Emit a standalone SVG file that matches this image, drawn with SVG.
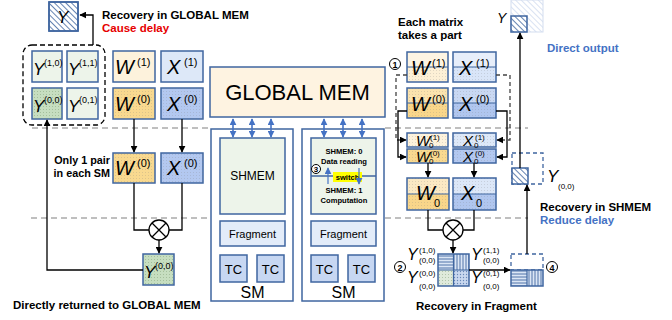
<svg xmlns="http://www.w3.org/2000/svg" width="672" height="320" viewBox="0 0 672 320">
<defs>
<style>
text{font-family:"Liberation Sans",Arial,sans-serif;fill:#000}
.b{font-weight:bold;font-size:11.5px}
.mi{font-style:italic;font-size:20px}
.sup{font-size:11px}
.ys{font-size:9px}
.box{stroke:#3f66a0;stroke-width:1.5}
.conn{fill:none;stroke:#000;stroke-width:1.3}
.dash{fill:none;stroke:#444;stroke-width:1.3;stroke-dasharray:4,3}
.gray{stroke:#aaa;stroke-width:1.5;stroke-dasharray:6,4;fill:none}
.blu{stroke:#4472c4;stroke-width:1.6;fill:none}
.num{font-weight:bold;font-size:9px}
.sm{font-weight:bold;font-size:7.6px}
</style>
<pattern id="dots" width="3" height="3" patternUnits="userSpaceOnUse"><circle cx="1.5" cy="1.5" r="0.45" fill="#777" opacity="0.45"/></pattern>
<pattern id="diag" width="4" height="4" patternUnits="userSpaceOnUse" patternTransform="rotate(-45)"><line x1="0" y1="0" x2="0" y2="4" stroke="#3f66a0" stroke-width="1.6"/></pattern>
<pattern id="diagL" width="4" height="4" patternUnits="userSpaceOnUse" patternTransform="rotate(-45)"><line x1="0" y1="0" x2="0" y2="4" stroke="#c9d6ec" stroke-width="1.4"/></pattern>
<pattern id="hs" width="3" height="3" patternUnits="userSpaceOnUse"><line x1="0" y1="1" x2="3" y2="1" stroke="#3f66a0" stroke-width="0.9"/></pattern>
<pattern id="vs" width="3" height="3" patternUnits="userSpaceOnUse"><line x1="1" y1="0" x2="1" y2="3" stroke="#3f66a0" stroke-width="0.9"/></pattern>
<pattern id="cross" width="3" height="3" patternUnits="userSpaceOnUse"><circle cx="1.5" cy="1.5" r="0.7" fill="#3f66a0" opacity="0.7"/></pattern>
<pattern id="gdots" width="3" height="3" patternUnits="userSpaceOnUse"><circle cx="1.5" cy="1.5" r="0.5" fill="#7a9a70" opacity="0.6"/></pattern>
<marker id="ah" viewBox="0 0 10 10" refX="9" refY="5" markerWidth="7" markerHeight="7" orient="auto-start-reverse" markerUnits="userSpaceOnUse"><path d="M0,0 L10,5 L0,10 z" fill="#000"/></marker>
<marker id="ab" viewBox="0 0 10 10" refX="9" refY="5" markerWidth="7" markerHeight="7" orient="auto-start-reverse" markerUnits="userSpaceOnUse"><path d="M0,0 L10,5 L0,10 z" fill="#4472c4"/></marker>
</defs>
<rect width="672" height="320" fill="#fff"/>

<g id="separators">
<line class="gray" x1="32" y1="128" x2="210" y2="128"/>
<line class="gray" x1="385" y1="128" x2="528" y2="128"/>
<line class="gray" x1="31" y1="218" x2="210" y2="218"/>
<line class="gray" x1="385" y1="218" x2="528" y2="218"/>
</g>

<!-- LEFT -->
<g id="left-Y-top">
<rect class="box" x="49" y="2" width="29" height="29" fill="#fff"/>
<rect x="49" y="2" width="29" height="29" fill="url(#diag)"/>
<rect class="box" x="49" y="2" width="29" height="29" fill="none"/>
<text x="57" y="23" style="font-style:italic;font-size:17px">Y</text>
</g>
<g id="left-text-top">
<text class="b" x="102" y="19">Recovery in GLOBAL MEM</text>
<text class="b" x="102" y="32" style="fill:#e60000">Cause delay</text>
</g>
<g id="left-Y-grid">
<rect x="23" y="45" width="82" height="80" rx="9" fill="none" stroke="#000" stroke-width="1.3" stroke-dasharray="5,3"/>
<rect class="box" x="32" y="51" width="30" height="31" fill="#edf4ea"/>
<rect class="box" x="67" y="51" width="31" height="31" fill="#edf4ea"/>
<rect class="box" x="32" y="88" width="30" height="31" fill="#c6dec0"/>
<rect x="32" y="88" width="30" height="31" fill="url(#gdots)"/>
<rect class="box" x="67" y="88" width="31" height="31" fill="#edf4ea"/>
<text x="33" y="75" style="font-style:italic;font-size:17px">Y</text><text class="ys" x="44" y="66">(1,0)</text>
<text x="68" y="75" style="font-style:italic;font-size:17px">Y</text><text class="ys" x="79" y="66">(1,1)</text>
<text x="33" y="112" style="font-style:italic;font-size:17px">Y</text><text class="ys" x="44" y="103">(0,0)</text>
<text x="68" y="112" style="font-style:italic;font-size:17px">Y</text><text class="ys" x="79" y="103">(0,1)</text>
</g>
<g id="left-W1">
<rect class="box" x="113" y="51" width="42" height="31" fill="#fdf2dc"/>
<text class="mi" x="115" y="74">W</text><text class="sup" x="137" y="66">(1)</text>
</g>
<g id="left-X1">
<rect class="box" x="161" y="51" width="42" height="31" fill="#dde8f8"/>
<text class="mi" x="167" y="74">X</text><text class="sup" x="184" y="66">(1)</text>
</g>
<g id="left-W0">
<rect class="box" x="113" y="88" width="42" height="31" fill="#f9d98f"/>
<rect x="113" y="88" width="42" height="31" fill="url(#dots)"/>
<text class="mi" x="115" y="111">W</text><text class="sup" x="137" y="103">(0)</text>
</g>
<g id="left-X0">
<rect class="box" x="161" y="88" width="42" height="31" fill="#b3c8f0"/>
<rect x="161" y="88" width="42" height="31" fill="url(#dots)"/>
<text class="mi" x="167" y="111">X</text><text class="sup" x="184" y="103">(0)</text>
</g>
<g id="left-text-mid">
<text class="b" x="110" y="164" text-anchor="end" style="font-size:10.8px">Only 1 pair</text>
<text class="b" x="110" y="177" text-anchor="end" style="font-size:10.8px">in each SM</text>
</g>
<g id="left-W0-sm">
<rect class="box" x="113" y="153" width="42" height="30" fill="#f9d98f"/>
<rect x="113" y="153" width="42" height="30" fill="url(#dots)"/>
<text class="mi" x="115" y="175">W</text><text class="sup" x="137" y="167">(0)</text>
</g>
<g id="left-X0-sm">
<rect class="box" x="161" y="153" width="42" height="30" fill="#b3c8f0"/>
<rect x="161" y="153" width="42" height="30" fill="url(#dots)"/>
<text class="mi" x="167" y="175">X</text><text class="sup" x="184" y="167">(0)</text>
</g>
<g id="left-mul">
<circle cx="159" cy="230" r="10" fill="#fff" stroke="#000" stroke-width="1.3"/>
<path d="M152,223 L166,237 M166,223 L152,237" stroke="#000" stroke-width="1.3"/>
</g>
<g id="left-Y00">
<rect class="box" x="143" y="254" width="31" height="31" fill="#c6dec0"/>
<rect x="143" y="254" width="31" height="31" fill="url(#gdots)"/>
<text x="144" y="278" style="font-style:italic;font-size:17px">Y</text><text class="ys" x="155" y="269">(0,0)</text>
</g>
<text class="b" x="13" y="309">Directly returned to GLOBAL MEM</text>

<!-- MIDDLE -->
<g id="global-mem">
<rect class="box" x="210" y="67" width="175" height="50" fill="#fef3e1"/>
<text x="297.5" y="100" text-anchor="middle" style="font-size:22px">GLOBAL MEM</text>
</g>
<g id="sm1">
<rect class="box" x="211" y="129" width="82" height="172" fill="#fff"/>
<rect class="box" x="220" y="138" width="65" height="76" fill="#edf4ea"/>
<text x="252.5" y="180" text-anchor="middle" style="font-size:12px">SHMEM</text>
<rect class="box" x="220" y="221" width="65" height="25" fill="#e3ecf9"/>
<text x="252.5" y="238" text-anchor="middle" style="font-size:11px">Fragment</text>
<rect class="box" x="220" y="255" width="27" height="27" fill="#c7d7f2"/>
<rect class="box" x="257" y="255" width="27" height="27" fill="#c7d7f2"/>
<text x="233.5" y="274" text-anchor="middle" style="font-size:13px">TC</text>
<text x="270.5" y="274" text-anchor="middle" style="font-size:13px">TC</text>
<text x="252.5" y="298" text-anchor="middle" style="font-size:16px">SM</text>
</g>
<g id="sm2">
<rect class="box" x="302" y="129" width="82" height="172" fill="#fff"/>
<rect class="box" x="311" y="138" width="65" height="76" fill="#edf4ea"/>
<line x1="311" y1="176" x2="376" y2="176" stroke="#3f66a0" stroke-width="1.5"/>
<text class="sm" x="344" y="154" text-anchor="middle">SHMEM: 0</text>
<text class="sm" x="344" y="164" text-anchor="middle">Data reading</text>
<rect x="333" y="172" width="29" height="10" fill="#ffff00"/>
<text class="sm" x="347.5" y="180" text-anchor="middle">switch</text>
<text class="sm" x="344" y="193" text-anchor="middle">SHMEM: 1</text>
<text class="sm" x="344" y="203" text-anchor="middle">Computation</text>
<circle cx="316" cy="169" r="4.5" fill="#fff" stroke="#000" stroke-width="1"/>
<text class="num" x="316" y="172" text-anchor="middle" style="font-size:8px">3</text>
<line class="blu" x1="328" y1="184" x2="328" y2="168" marker-end="url(#ab)" style="stroke-width:1.2"/>
<line class="blu" x1="359" y1="168" x2="359" y2="184" marker-end="url(#ab)" style="stroke-width:1.2"/>
<rect class="box" x="311" y="221" width="65" height="25" fill="#e3ecf9"/>
<text x="343.5" y="238" text-anchor="middle" style="font-size:11px">Fragment</text>
<rect class="box" x="311" y="255" width="27" height="27" fill="#c7d7f2"/>
<rect class="box" x="348" y="255" width="27" height="27" fill="#c7d7f2"/>
<text x="324.5" y="274" text-anchor="middle" style="font-size:13px">TC</text>
<text x="361.5" y="274" text-anchor="middle" style="font-size:13px">TC</text>
<text x="343.5" y="298" text-anchor="middle" style="font-size:16px">SM</text>
</g>

<!-- RIGHT -->
<g id="right-Y-top">
<rect x="511" y="0" width="32" height="32" fill="#fff"/>
<rect x="511" y="0" width="32" height="32" fill="url(#diagL)" stroke="#d3ddef" stroke-width="1"/>
<rect x="511" y="16" width="16" height="16" fill="#fff"/>
<rect x="511" y="16" width="16" height="16" fill="url(#diag)"/>
<rect class="box" x="511" y="16" width="16" height="16" fill="none"/>
<text x="497" y="23" style="font-style:italic;font-size:14px">Y</text>
</g>
<text class="b" x="547" y="52" style="fill:#4472c4">Direct output</text>
<g id="right-text-top">
<text class="b" x="398" y="26">Each matrix</text>
<text class="b" x="398" y="39">takes a part</text>
</g>
<g id="num1"><circle cx="395" cy="64" r="5.5" fill="#fff" stroke="#000" stroke-width="1"/><text class="num" x="395" y="67.5" text-anchor="middle">1</text></g>
<g id="right-W1">
<rect x="407" y="52" width="41" height="15" fill="#fdf4e3"/>
<rect x="407" y="67" width="41" height="15" fill="#fdf0d6"/>
<rect x="407" y="67" width="41" height="15" fill="url(#dots)"/>
<rect class="box" x="407" y="52" width="41" height="30" fill="none"/>
<line x1="407" y1="67" x2="448" y2="67" stroke="#3f66a0" stroke-width="1.2"/>
<text class="mi" x="411" y="75">W</text><text class="sup" x="432" y="67">(1)</text>
</g>
<g id="right-X1">
<rect x="453" y="52" width="43" height="15" fill="#e7eefa"/>
<rect x="453" y="67" width="43" height="15" fill="#d9e5f8"/>
<rect x="453" y="67" width="43" height="15" fill="url(#dots)"/>
<rect class="box" x="453" y="52" width="43" height="30" fill="none"/>
<line x1="453" y1="67" x2="496" y2="67" stroke="#3f66a0" stroke-width="1.2"/>
<text class="mi" x="459" y="75">X</text><text class="sup" x="476" y="67">(1)</text>
</g>
<g id="right-W0">
<rect x="407" y="88" width="41" height="15" fill="#fbe3ae"/>
<rect x="407" y="103" width="41" height="15" fill="#f9d68a"/>
<rect x="407" y="88" width="41" height="30" fill="url(#dots)"/>
<rect class="box" x="407" y="88" width="41" height="30" fill="none"/>
<line x1="407" y1="103" x2="448" y2="103" stroke="#3f66a0" stroke-width="1.2"/>
<text class="mi" x="411" y="111">W</text><text class="sup" x="432" y="103">(0)</text>
</g>
<g id="right-X0">
<rect x="453" y="88" width="43" height="15" fill="#c9d8f3"/>
<rect x="453" y="103" width="43" height="15" fill="#b0c6ef"/>
<rect x="453" y="88" width="43" height="30" fill="url(#dots)"/>
<rect class="box" x="453" y="88" width="43" height="30" fill="none"/>
<line x1="453" y1="103" x2="496" y2="103" stroke="#3f66a0" stroke-width="1.2"/>
<text class="mi" x="459" y="111">X</text><text class="sup" x="476" y="103">(0)</text>
</g>
<g id="right-W01">
<rect class="box" x="407" y="133" width="41" height="14" fill="#fdf2dc"/>
<rect x="407" y="133" width="41" height="14" fill="url(#dots)"/>
<text x="416" y="146" style="font-style:italic;font-size:15px">W</text><text x="429" y="148" style="font-size:8px">0</text><text x="430" y="140" style="font-size:8px">(1)</text>
</g>
<g id="right-X01">
<rect class="box" x="453" y="133" width="43" height="14" fill="#dde8f8"/>
<rect x="453" y="133" width="43" height="14" fill="url(#dots)"/>
<text x="463" y="146" style="font-style:italic;font-size:15px">X</text><text x="474" y="148" style="font-size:8px">0</text><text x="475" y="140" style="font-size:8px">(1)</text>
</g>
<g id="right-W00">
<rect class="box" x="407" y="149" width="41" height="14" fill="#f9d98f"/>
<rect x="407" y="149" width="41" height="14" fill="url(#dots)"/>
<text x="416" y="162" style="font-style:italic;font-size:15px">W</text><text x="429" y="164" style="font-size:8px">0</text><text x="430" y="156" style="font-size:8px">(0)</text>
</g>
<g id="right-X00">
<rect class="box" x="453" y="149" width="43" height="14" fill="#b3c8f0"/>
<rect x="453" y="149" width="43" height="14" fill="url(#dots)"/>
<text x="463" y="162" style="font-style:italic;font-size:15px">X</text><text x="474" y="164" style="font-size:8px">0</text><text x="475" y="156" style="font-size:8px">(0)</text>
</g>
<g id="right-W0full">
<rect x="407" y="178" width="42" height="16" fill="#fbe9c4"/>
<rect x="407" y="194" width="42" height="16" fill="#f9d68a"/>
<rect x="407" y="178" width="42" height="32" fill="url(#dots)"/>
<rect class="box" x="407" y="178" width="42" height="32" fill="none"/>
<line x1="407" y1="194" x2="449" y2="194" stroke="#3f66a0" stroke-width="1.2"/>
<text class="mi" x="416" y="200">W</text><text x="434" y="207" style="font-size:11px">0</text>
</g>
<g id="right-X0full">
<rect x="453" y="178" width="43" height="16" fill="#dce7f8"/>
<rect x="453" y="194" width="43" height="16" fill="#b0c6ef"/>
<rect x="453" y="178" width="43" height="32" fill="url(#dots)"/>
<rect class="box" x="453" y="178" width="43" height="32" fill="none"/>
<line x1="453" y1="194" x2="496" y2="194" stroke="#3f66a0" stroke-width="1.2"/>
<text class="mi" x="461" y="200">X</text><text x="476" y="207" style="font-size:11px">0</text>
</g>
<g id="right-mul">
<circle cx="453" cy="230" r="10" fill="#fff" stroke="#000" stroke-width="1.3"/>
<path d="M446,223 L460,237 M460,223 L446,237" stroke="#000" stroke-width="1.3"/>
</g>
<g id="right-frag-grid">
<rect x="438" y="254" width="15.5" height="16" fill="#dbe6f5"/><rect x="438" y="254" width="15.5" height="16" fill="url(#hs)"/>
<rect x="453.5" y="254" width="15.5" height="16" fill="#dbe6f5"/><rect x="453.5" y="254" width="15.5" height="16" fill="url(#vs)"/>
<rect x="438" y="270" width="15.5" height="16" fill="#dfeadb"/><rect x="438" y="270" width="15.5" height="16" fill="url(#gdots)"/>
<rect x="453.5" y="270" width="15.5" height="16" fill="#c9d8ef"/><rect x="453.5" y="270" width="15.5" height="16" fill="url(#cross)"/>
<rect class="box" x="438" y="254" width="31" height="32" fill="none"/>
<path d="M453.5,254 V286 M438,270 H469" stroke="#3f66a0" stroke-width="1.2"/>
<text x="407" y="260" style="font-style:italic;font-size:16px">Y</text><text style="font-size:8px" x="419" y="253">(1,0)</text><text style="font-size:8px" x="419" y="263">(0,0)</text>
<text x="471" y="260" style="font-style:italic;font-size:16px">Y</text><text style="font-size:8px" x="483" y="253">(1,1)</text><text style="font-size:8px" x="483" y="263">(0,0)</text>
<text x="407" y="283" style="font-style:italic;font-size:16px">Y</text><text style="font-size:8px" x="419" y="276">(0,0)</text><text style="font-size:8px" x="419" y="289">(0,0)</text>
<text x="471" y="283" style="font-style:italic;font-size:16px">Y</text><text style="font-size:8px" x="483" y="276">(0,1)</text><text style="font-size:8px" x="483" y="289">(0,0)</text>
</g>
<g id="num2"><circle cx="400" cy="267" r="5.5" fill="#fff" stroke="#000" stroke-width="1"/><text class="num" x="400" y="270.5" text-anchor="middle">2</text></g>
<g id="right-row">
<rect x="511" y="254" width="32" height="16" fill="none" stroke="#3f66a0" stroke-width="1.3" stroke-dasharray="4,3"/>
<rect x="511" y="270" width="16" height="16" fill="#dbe6f5"/><rect x="511" y="270" width="16" height="16" fill="url(#hs)"/>
<rect x="527" y="270" width="16" height="16" fill="#dbe6f5"/><rect x="527" y="270" width="16" height="16" fill="url(#vs)"/>
<rect class="box" x="511" y="270" width="32" height="16" fill="none"/>
<line x1="527" y1="270" x2="527" y2="286" stroke="#3f66a0" stroke-width="1.2"/>
</g>
<g id="num4"><circle cx="552" cy="267" r="5.5" fill="#fff" stroke="#000" stroke-width="1"/><text class="num" x="552" y="270.5" text-anchor="middle">4</text></g>
<g id="right-Y00">
<rect x="512" y="153" width="31" height="31" fill="none" stroke="#3f66a0" stroke-width="1.3" stroke-dasharray="4,3"/>
<rect x="512" y="168" width="16" height="16" fill="#fff"/>
<rect x="512" y="168" width="16" height="16" fill="url(#diag)"/>
<rect class="box" x="512" y="168" width="16" height="16" fill="none"/>
<text x="547" y="182" style="font-style:italic;font-size:17px">Y</text><text x="558" y="189" style="font-size:8px">(0,0)</text>
</g>
<g id="right-text-bottom">
<text class="b" x="540" y="211">Recovery in SHMEM</text>
<text class="b" x="540" y="224" style="fill:#4472c4">Reduce delay</text>
<text class="b" x="416" y="310">Recovery in Fragment</text>
</g>

<g id="connectors">
<path class="conn" d="M93,45 V15 H80" marker-end="url(#ah)"/>
<path class="conn" d="M134,119 V152" marker-end="url(#ah)"/>
<path class="conn" d="M182,119 V152" marker-end="url(#ah)"/>
<path class="conn" d="M134,183 V230 H149"/>
<path class="conn" d="M182,183 V230 H169"/>
<path class="conn" d="M159,240 V253" marker-end="url(#ah)"/>
<path class="conn" d="M143,270 H47 V120" marker-end="url(#ah)"/>
<line class="blu" x1="233" y1="119" x2="233" y2="137" marker-start="url(#ab)" marker-end="url(#ab)"/>
<line class="blu" x1="252" y1="119" x2="252" y2="137" marker-start="url(#ab)" marker-end="url(#ab)"/>
<line class="blu" x1="271" y1="119" x2="271" y2="137" marker-start="url(#ab)" marker-end="url(#ab)"/>
<line class="blu" x1="324" y1="119" x2="324" y2="137" marker-start="url(#ab)" marker-end="url(#ab)"/>
<line class="blu" x1="343" y1="119" x2="343" y2="137" marker-start="url(#ab)" marker-end="url(#ab)"/>
<line class="blu" x1="362" y1="119" x2="362" y2="137" marker-start="url(#ab)" marker-end="url(#ab)"/>
<path class="dash" d="M407,75 H396 V140 H406" marker-end="url(#ah)"/>
<path class="dash" d="M496,75 H510 V140 H497" marker-end="url(#ah)"/>
<path class="conn" d="M407,111 H398 V157 H406" marker-end="url(#ah)"/>
<path class="conn" d="M496,111 H507 V157 H497" marker-end="url(#ah)"/>
<path class="conn" d="M428,163 V177" marker-end="url(#ah)"/>
<path class="conn" d="M474,163 V177" marker-end="url(#ah)"/>
<path class="conn" d="M428,210 V230 H443"/>
<path class="conn" d="M474,210 V230 H463"/>
<path class="conn" d="M453,240 V253" marker-end="url(#ah)"/>
<path class="conn" d="M469,270 H510" marker-end="url(#ah)"/>
<path class="conn" d="M527,254 V185" marker-end="url(#ah)"/>
<path class="conn" d="M520,168 V33" marker-end="url(#ah)"/>
</g>
</svg>
